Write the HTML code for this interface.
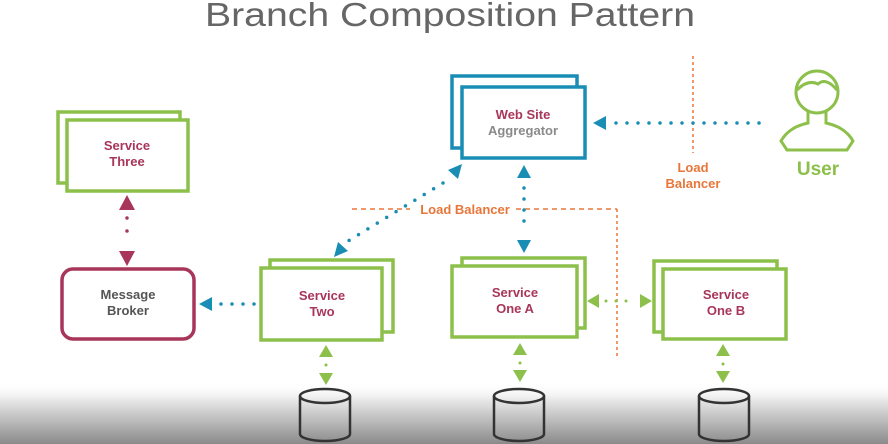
<!DOCTYPE html>
<html><head><meta charset="utf-8"><style>
html,body{margin:0;padding:0;background:#fff;}
svg{display:block;}
text{font-family:"Liberation Sans",sans-serif;}
</style></head><body>
<svg width="888" height="444" viewBox="0 0 888 444" xmlns="http://www.w3.org/2000/svg">
<defs>
<linearGradient id="g" x1="0" y1="0" x2="0" y2="1">
<stop offset="0" stop-color="#fff" stop-opacity="0"/>
<stop offset="0.3" stop-color="#e6e6e6"/>
<stop offset="1" stop-color="#8a8a8a"/>
</linearGradient>
</defs>
<rect width="888" height="444" fill="#fff"/>
<rect x="0" y="382" width="888" height="62" fill="url(#g)"/>
<text x="450" y="26" font-size="33" fill="#666" text-anchor="middle" textLength="490" lengthAdjust="spacingAndGlyphs">Branch Composition Pattern</text>

<g fill="#fff" stroke="#8cc04b" stroke-width="3.5">
<rect x="58" y="112" width="122" height="71"/>
<rect x="67" y="120" width="121" height="71"/>
<rect x="270" y="260" width="123" height="72"/>
<rect x="261" y="268" width="121" height="72"/>
<rect x="462" y="258" width="123" height="70"/>
<rect x="452" y="266" width="125" height="71"/>
<rect x="654" y="261" width="123" height="71"/>
<rect x="663" y="269" width="123" height="70"/>
</g>
<g fill="#fff" stroke="#1a8db5" stroke-width="3.5">
<rect x="452" y="76" width="125" height="72"/>
<rect x="462" y="87" width="123" height="71"/>
</g>
<rect x="62" y="269" width="132" height="70" rx="11" fill="#fff" stroke="#a8365a" stroke-width="3.5"/>

<g font-size="13" font-weight="bold" text-anchor="middle" fill="#a8365a">
<text x="127" y="150">Service</text><text x="127" y="166">Three</text>
<text x="322" y="300">Service</text><text x="322" y="316">Two</text>
<text x="515" y="297">Service</text><text x="515" y="313">One A</text>
<text x="726" y="299">Service</text><text x="726" y="315">One B</text>
<text x="523" y="119">Web Site</text>
<text x="523" y="135" fill="#8a8a8a">Aggregator</text>
<text x="128" y="299" fill="#555">Message</text><text x="128" y="315" fill="#555">Broker</text>
</g>

<g stroke="#e8763a" stroke-width="1.5" fill="none">
<line x1="693" y1="56" x2="693" y2="153" stroke-dasharray="3,3"/>
<line x1="352" y1="209" x2="410" y2="209" stroke-dasharray="5,4"/>
<line x1="516" y1="209" x2="617" y2="209" stroke-dasharray="5,4"/>
<line x1="617" y1="209" x2="617" y2="358" stroke-dasharray="3,3"/>
</g>
<g font-size="13" font-weight="bold" fill="#e8763a" text-anchor="middle">
<text x="693" y="172">Load</text><text x="693" y="188">Balancer</text>
<text x="465" y="214">Load Balancer</text>
</g>

<g stroke="#8cc04b" stroke-width="3" fill="none">
<circle cx="817" cy="92" r="21"/>
<path d="M797 90 Q808 79 818 84 Q826 77 837 90"/>
<path d="M808 112 L808 123 Q789 127 781 141 L787 150 L847 150 L853 141 Q845 127 826 123 L826 112"/>
</g>
<text x="818" y="175" font-size="19" font-weight="bold" fill="#8cc04b" text-anchor="middle">User</text>

<g fill="#1a8db5">
<polygon points="593,123 606,116 606,130"/>
<polygon points="462,164 448,170 458,179"/>
<polygon points="334,257 348,251 338,242"/>
<polygon points="524,165 517,178 531,178"/>
<polygon points="524,253 517,240 531,240"/>
<polygon points="199,304 212,297 212,311"/>
</g>
<g stroke="#1a8db5" stroke-width="3.5" stroke-linecap="round" stroke-dasharray="0,11" fill="none">
<line x1="616" y1="123" x2="760" y2="123"/>
<line x1="443" y1="183" x2="348" y2="241"/>
<line x1="524" y1="188" x2="524" y2="232"/>
<line x1="221" y1="304" x2="258" y2="304"/>
</g>

<g fill="#a8365a">
<polygon points="127,195 119,210 135,210"/>
<polygon points="127,266 119,251 135,251"/>
</g>
<g stroke="#a8365a" stroke-width="3.5" stroke-linecap="round" stroke-dasharray="0,13" fill="none">
<line x1="127" y1="218" x2="127" y2="244"/>
</g>

<g fill="#8cc04b">
<polygon points="587,301 599,294 599,308"/>
<polygon points="652,301 640,294 640,308"/>
<polygon points="326,345 319,357 333,357"/>
<polygon points="326,385 319,373 333,373"/>
<polygon points="520,343 513,355 527,355"/>
<polygon points="520,382 513,370 527,370"/>
<polygon points="723,344 716,356 730,356"/>
<polygon points="723,383 716,371 730,371"/>
</g>
<g stroke="#8cc04b" stroke-width="3" stroke-linecap="round" stroke-dasharray="0,10" fill="none">
<line x1="606" y1="301" x2="632" y2="301"/>
<line x1="326" y1="365" x2="326" y2="366"/>
<line x1="520" y1="363" x2="520" y2="364"/>
<line x1="723" y1="364" x2="723" y2="365"/>
</g>

<g stroke="#333" stroke-width="2.5" fill="none">
<path d="M300 396 L300 434 A25 7 0 0 0 350 434 L350 396"/><ellipse cx="325" cy="396" rx="25" ry="7"/>
<path d="M494 396 L494 434 A25 7 0 0 0 544 434 L544 396"/><ellipse cx="519" cy="396" rx="25" ry="7"/>
<path d="M699 396 L699 434 A25 7 0 0 0 749 434 L749 396"/><ellipse cx="724" cy="396" rx="25" ry="7"/>
</g>
</svg>
</body></html>
